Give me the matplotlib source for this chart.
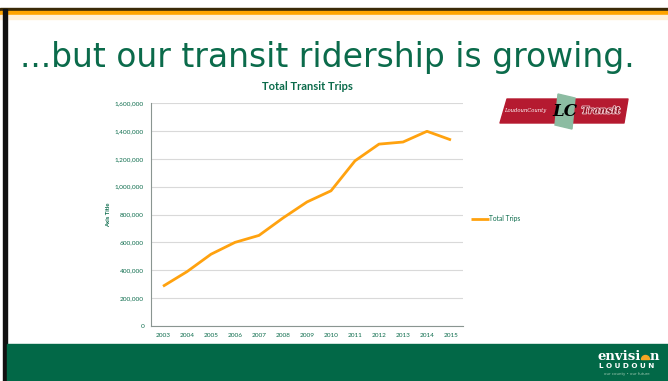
import matplotlib
matplotlib.use("Agg")
import matplotlib.pyplot as plt
import matplotlib.ticker as plticker
import matplotlib.patheffects as pe
from matplotlib.patches import Rectangle, Polygon, Wedge

years = ["2003", "2004", "2005", "2006", "2007", "2008", "2009",
         "2010", "2011", "2012", "2013", "2014", "2015"]
total_trips = [285000, 390000, 515000, 600000, 650000, 775000, 890000,
               970000, 1185000, 1305000, 1320000, 1397000, 1335000]
y_ticks = [0, 200000, 400000, 600000, 800000, 1000000, 1200000, 1400000, 1600000]

green = "#0b6b4b"
orange = "#ffa20f"
W, H = 668, 381

fig = plt.figure(figsize=(W / 100, H / 100), dpi=100)

# slide background in pixel coordinates
bg = fig.add_axes([0, 0, 1, 1])
bg.set_xlim(0, W)
bg.set_ylim(H, 0)
bg.axis("off")
bg.add_patch(Rectangle((0, 7.5), W, 3, color="#3a2a08"))
bg.add_patch(Rectangle((0, 10.5), W, 4.5, color="#ffa400"))
bg.add_patch(Rectangle((0, 15), W, 4, color="#fff0d8"))
bg.add_patch(Rectangle((3, 9), 3.5, H, color="#111111"))
bg.add_patch(Rectangle((6.5, 344), W, 40, color="#026847"))

bg.text(20, 57, "...but our transit ridership is growing.", fontsize=23.8,
        color=green, family="DejaVu Sans", va="center", ha="left")

# county transit logo
bg.add_patch(Polygon([[507, 99], [628, 99], [624, 123], [500, 123]],
                     closed=True, color="#b51a30", joinstyle="round"))
bg.add_patch(Polygon([[558, 94], [575, 98], [572, 129], [555, 125]], color="#8cbca2"))
bg.text(504, 110.5, "LoudounCounty", fontsize=3.8, color="white", style="italic",
        family="DejaVu Serif", va="center")
bg.text(565, 111, "LC", fontsize=12, color="black", style="italic", weight="bold",
        family="DejaVu Serif", va="center", ha="center")
bg.text(601, 111, "Transit", fontsize=7, color="#8a1020", style="italic", weight="bold",
        family="DejaVu Serif", va="center", ha="center",
        path_effects=[pe.withStroke(linewidth=1.2, foreground="#f2c9cf")])

# envision loudoun logo (y axis is flipped, so the dome uses 180-360)
bg.text(641, 356, "envisi", fontsize=9.5, color="white", weight="bold",
        family="DejaVu Serif", va="center", ha="right")
bg.add_patch(Wedge((645.5, 359.5), 4, 180, 360, color="#f5a623"))
bg.text(650, 356, "n", fontsize=9.5, color="white", weight="bold",
        family="DejaVu Serif", va="center", ha="left")
bg.text(627, 366.5, "L O U D O U N", fontsize=5.2, color="white", weight="bold",
        family="DejaVu Sans", va="center", ha="center")
bg.text(627, 374, "our county \u2022 our future", fontsize=2.8, color="#9cc7b0",
        family="DejaVu Sans", va="center", ha="center")

# chart
ax = fig.add_axes([151 / W, (H - 326) / H, 312 / W, 223 / H])
x = range(len(years))
line, = ax.plot(x, total_trips, color=orange, lw=2.0, solid_capstyle="butt")
ax.set_xlim(-0.5, len(years) - 0.5)
ax.set_ylim(0, 1600000)
ax.set_yticks(y_ticks)
ax.yaxis.set_major_formatter(plticker.StrMethodFormatter("{x:,.0f}"))
ax.set_xticks(list(x))
ax.set_xticklabels(years)
ax.grid(axis="y", color="#d9d9d9", lw=0.8)
ax.set_axisbelow(True)
for s in ["top", "right"]:
    ax.spines[s].set_visible(False)
ax.spines["left"].set_color("#8a9591")
ax.spines["bottom"].set_color("#8a9591")
ax.tick_params(length=0, labelsize=4.6, labelcolor=green, pad=5)
for lab in ax.get_xticklabels() + ax.get_yticklabels():
    lab.set_family("Lato")
ax.set_ylabel("Axis Title", fontsize=4.2, color=green, weight="bold", family="Lato",
              labelpad=3)
ax.set_title("Total Transit Trips", fontsize=8, color=green, weight="bold",
             family="Lato", pad=9)

leg = ax.legend([line], ["Total Trips"], loc="center left", bbox_to_anchor=(1.018, 0.48),
                frameon=False, fontsize=4.8, handlelength=2.6, handletextpad=0.1,
                borderaxespad=0)
for t in leg.get_texts():
    t.set_color(green)
    t.set_family("Lato")

fig.savefig("out.png", dpi=100)
